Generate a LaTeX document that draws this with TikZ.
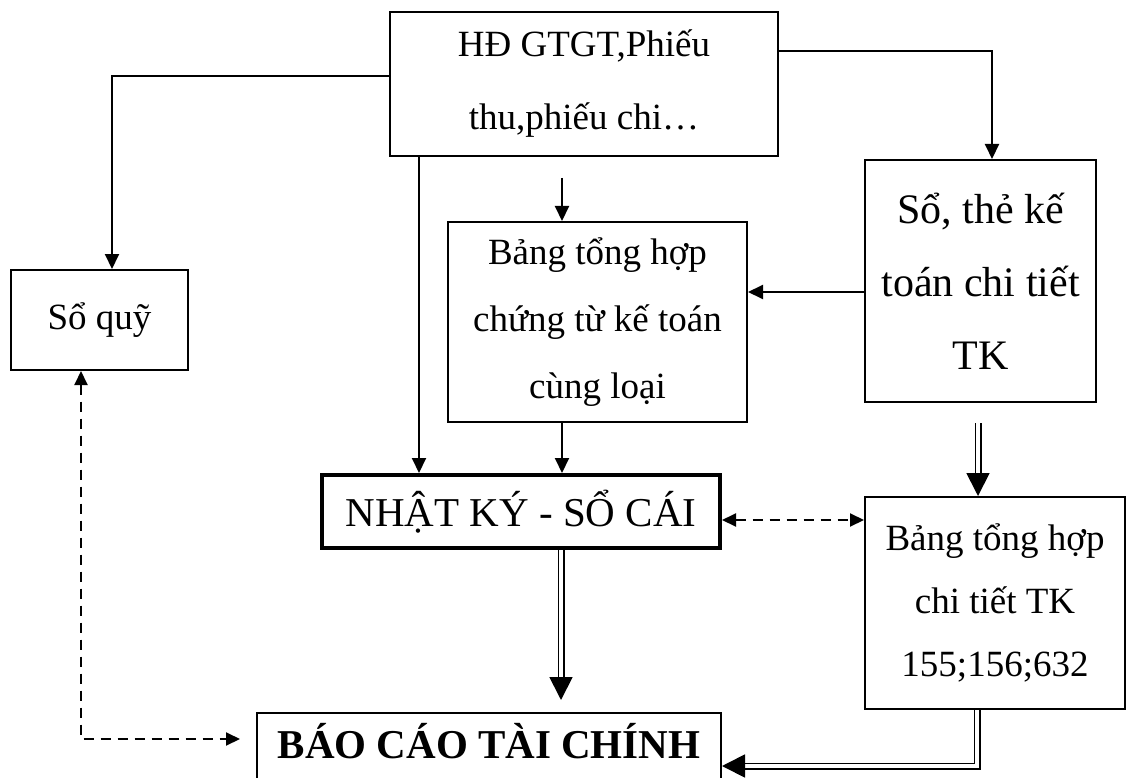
\documentclass[tikz,border=0pt]{standalone}
\usepackage{fontspec}
\setmainfont{Liberation Serif}
\usetikzlibrary{arrows.meta, positioning, calc}

\tikzset{
  box/.style={draw, line width=2pt, inner sep=0pt, align=center},
  arr/.style={line width=2pt, -{Triangle[length=15pt,width=14pt]}},
  dashline/.style={line width=2pt, dash pattern=on 10pt off 7pt},
  dashtip/.style={{Triangle[length=14pt,width=13pt]}-{Triangle[length=14pt,width=13pt]}},
  dbl/.style={double, line width=1.8pt, double distance=3.4pt},
  bigtip/.style={line width=1.8pt, -{Triangle[length=23pt,width=23pt]}},
}

\begin{document}
\begin{tikzpicture}[x=1pt, y=-1pt]
  \useasboundingbox (0,0) rectangle (1132,778);
  % boxes
  \node[box, minimum width=388, minimum height=144, font=\fontsize{37}{73}\selectfont] (hd) at (584,84) {HĐ GTGT,Phiếu\\thu,phiếu chi…};
  \node[box, minimum width=177, minimum height=100, font=\fontsize{37}{44}\selectfont] (soquy) at (99.5,320) {Sổ quỹ};
  \node[box, minimum width=231, minimum height=242, font=\fontsize{42}{73}\selectfont] (sothe) at (980.5,281) {Sổ, thẻ kế\\toán chi tiết\\TK};
  \node[box, minimum width=299, minimum height=200, font=\fontsize{37}{67}\selectfont] (bangct) at (597.5,322) {Bảng tổng hợp\\chứng từ kế toán\\cùng loại};
  \node[box, line width=4pt, minimum width=398, minimum height=73, font=\fontsize{41}{48}\selectfont] (nk) at (521,511.5) {NHẬT KÝ - SỔ CÁI};
  \node[box, minimum width=260, minimum height=212, font=\fontsize{37}{63}\selectfont] (bangtk) at (995,603) {Bảng tổng hợp\\chi tiết TK\\155;156;632};
  \node[box, minimum width=464, minimum height=90, text height=20pt, text depth=20pt, font=\fontsize{41}{48}\selectfont\bfseries] (bc) at (489,758) {BÁO CÁO TÀI CHÍNH};

  % single arrows
  \draw[arr] (hd.west |- 0,76) -| (soquy.north -| 112,0);
  \draw[arr] (hd.east |- 0,51) -| (sothe.north -| 992,0);
  \draw[arr] (hd.south -| 419,0) -- (nk.north -| 419,0);
  \coordinate (ctin) at (562,178);
  \draw[arr] (ctin) -- (bangct.north -| ctin);
  \draw[arr] (bangct.south -| 562,0) -- (nk.north -| 562,0);
  \draw[arr] (sothe.west |- 0,292) -- (bangct.east |- 0,292);

  % dashed links
  \draw[dashline, dashtip] (nk.east |- 0,520) -- (bangtk.west |- 0,520);
  \coordinate (bcleft) at (240,739);
  \draw[dashline, dashtip] (soquy.south -| 81,0) |- (bcleft);

  % double arrows
  \coordinate (thedown) at (978,423);
  \coordinate (tkin) at (978,474);
  \draw[dbl] (thedown) -- (tkin);
  \draw[bigtip] (tkin) -- (bangtk.north -| tkin);

  \coordinate (nkout) at (561,677);
  \coordinate (bctop) at (561,700);
  \draw[dbl] (nk.south -| nkout) -- (nkout);
  \draw[bigtip] (nkout) -- (bctop);

  \coordinate (bcin) at (744,766);
  \draw[dbl] (bangtk.south -| 977,0) |- (bcin);
  \draw[bigtip] (bcin) -- (bc.east |- bcin);
\end{tikzpicture}
\end{document}
